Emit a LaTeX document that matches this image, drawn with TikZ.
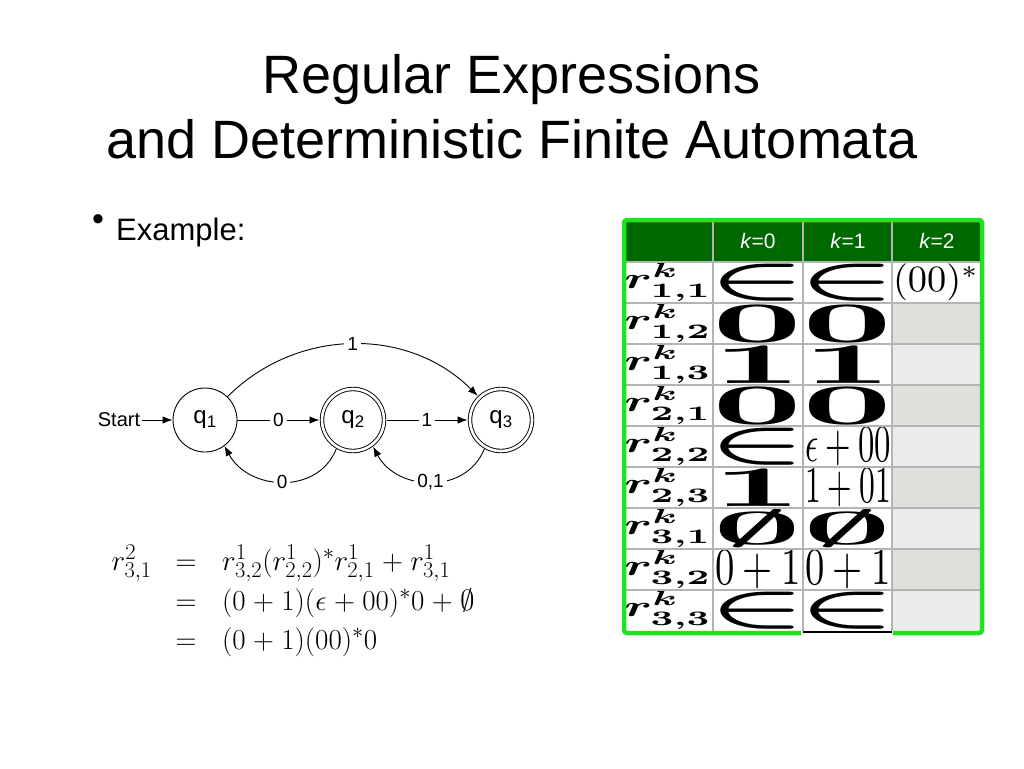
\RequirePackage{fix-cm}
\documentclass[tikz,border=0pt]{standalone}
\usepackage{fontspec}
\setmainfont{Liberation Sans}
\usepackage{amsmath,graphicx}
\usetikzlibrary{arrows.meta}
\DeclareMathSizes{29}{29}{22.5}{17}
\definecolor{hdrgreen}{RGB}{0,104,0}
\definecolor{brdgreen}{RGB}{32,226,32}
\definecolor{gridgray}{RGB}{180,180,180}
\definecolor{darkcell}{RGB}{224,223,220}
\definecolor{lightcell}{RGB}{235,235,235}
\newcommand{\bigsym}[2][84pt]{\resizebox*{#1}{37pt}{\boldmath$#2$}}
\newcommand{\bigexpr}[1]{\resizebox*{86pt}{38pt}{$#1$}}
\newcommand{\rlab}[1]{\resizebox*{88pt}{38pt}{\boldmath$r^{k}_{#1}$}}
\newcommand{\eqm}[1]{$\medmuskip=4.6mu plus 2mu minus 4mu\relax #1$}
\begin{document}
\begin{tikzpicture}[x=1pt,y=-1pt,
  state/.style={circle,draw,line width=0.9pt,minimum size=64pt,inner sep=0pt,font=\fontsize{24}{24}\selectfont},
  accept/.style={state,double,double distance=2.6pt,minimum size=62pt,outer sep=2.5pt},
  arr/.style={line width=0.9pt,-{Latex[length=10pt,width=7.5pt]}},
  lbl/.style={fill=white,inner sep=3pt,font=\fontsize{19}{19}\selectfont},
  cellc/.style={inner sep=0pt,anchor=center},
  hdr/.style={text=white,font=\fontsize{21}{21}\selectfont,anchor=center},
  eq/.style={inner sep=0pt,font=\fontsize{29}{29}\selectfont}]
\useasboundingbox (0,0) rectangle (1024,768);
% title
\node[anchor=base,font=\fontsize{54}{60}\selectfont] (t1) at (512,93) {Regular Expressions};
\node[anchor=base,font=\fontsize{54}{60}\selectfont] (t2) at (512,158) {and Deterministic Finite Automata};
% bullet
\node[anchor=base,font=\fontsize{34}{34}\selectfont,inner sep=0pt] (bul) at (98,230) {•};
\node[anchor=base west,font=\fontsize{31}{31}\selectfont,inner sep=0pt] (ex) at (116,240) {Example:};
% automaton
\node[state] (q1) at (205,420) {q\textsubscript{1}};
\node[accept] (q2) at (353,420) {q\textsubscript{2}};
\node[accept] (q3) at (501,420) {q\textsubscript{3}};
\node[font=\fontsize{20}{20}\selectfont,inner sep=2pt] (start) at (119,420) {Start};
\draw[arr] (start) -- (q1);
\draw[arr] (q1) -- node[lbl]{0} (q2);
\draw[arr] (q2) -- node[lbl]{1} (q3);
\draw[arr] (q1.46) to[out=45,in=135] node[lbl]{1} (q3.134);
\draw[arr] (q2.240) to[out=248,in=-62,looseness=1.15] node[lbl]{0} (q1.-53);
\draw[arr] (q3.240) to[out=248,in=-62,looseness=1.15] node[lbl]{0,1} (q2.-53);
% equations
\node[eq,anchor=base east] (l1) at (152,570) {\eqm{r^2_{3,1}}};
\node[eq,anchor=base] (e1) at (186,570) {\eqm{=}};
\node[eq,anchor=base west] (r1) at (222,570) {\eqm{r^1_{3,2}(r^1_{2,2})^*r^1_{2,1}+r^1_{3,1}}};
\node[eq,anchor=base] (e2) at (186,610) {\eqm{=}};
\node[eq,anchor=base west] (r2) at (222,610) {\eqm{(0+1)(\epsilon+00)^*0+\emptyset}};
\node[eq,anchor=base] (e3) at (186,649) {\eqm{=}};
\node[eq,anchor=base west] (r3) at (222,649) {\eqm{(0+1)(00)^*0}};
% table backgrounds
\fill[hdrgreen] (624,221) rectangle (981,262);
\fill[darkcell] (892,303) rectangle (981,344);
\fill[lightcell] (892,344) rectangle (981,385);
\fill[darkcell] (892,385) rectangle (981,426);
\fill[lightcell] (892,426) rectangle (981,467);
\fill[darkcell] (892,467) rectangle (981,508);
\fill[lightcell] (892,508) rectangle (981,549);
\fill[darkcell] (892,549) rectangle (981,590);
\fill[lightcell] (892,590) rectangle (981,631);
% header
\node[hdr] (h0) at (758,241) {\textit{k}=0};
\node[hdr] (h1) at (848,241) {\textit{k}=1};
\node[hdr] (h2) at (937,241) {\textit{k}=2};
% row labels
\node[cellc] (l11) at (668,282.5) {\rlab{1,1}};
\node[cellc] (l12) at (668,323.5) {\rlab{1,2}};
\node[cellc] (l13) at (668,364.5) {\rlab{1,3}};
\node[cellc] (l21) at (668,405.5) {\rlab{2,1}};
\node[cellc] (l22) at (668,446.5) {\rlab{2,2}};
\node[cellc] (l23) at (668,487.5) {\rlab{2,3}};
\node[cellc] (l31) at (668,528.5) {\rlab{3,1}};
\node[cellc] (l32) at (668,569.5) {\rlab{3,2}};
\node[cellc] (l33) at (668,610.5) {\rlab{3,3}};
% k=0
\node[cellc] (a11) at (758,282.5) {\bigsym[98pt]{\in}};
\node[cellc] (a12) at (758,323.5) {\bigsym[90pt]{0}};
\node[cellc] (a13) at (758,364.5) {\bigsym[90pt]{1}};
\node[cellc] (a21) at (758,405.5) {\bigsym[90pt]{0}};
\node[cellc] (a22) at (758,446.5) {\bigsym[98pt]{\in}};
\node[cellc] (a23) at (758,487.5) {\bigsym[90pt]{1}};
\node[cellc] (a31) at (758,528.5) {\bigsym[88pt]{\emptyset}};
\node[cellc] (a32) at (758,569.5) {\bigexpr{0+1}};
\node[cellc] (a33) at (758,610.5) {\bigsym[98pt]{\in}};
% k=1
\node[cellc] (b11) at (848,282.5) {\bigsym[98pt]{\in}};
\node[cellc] (b12) at (848,323.5) {\bigsym[90pt]{0}};
\node[cellc] (b13) at (848,364.5) {\bigsym[90pt]{1}};
\node[cellc] (b21) at (848,405.5) {\bigsym[90pt]{0}};
\node[cellc] (b22) at (848,446.5) {\bigexpr{\epsilon+00}};
\node[cellc] (b23) at (848,487.5) {\bigexpr{1+01}};
\node[cellc] (b31) at (848,528.5) {\bigsym[88pt]{\emptyset}};
\node[cellc] (b32) at (848,569.5) {\bigexpr{0+1}};
\node[cellc] (b33) at (848,610.5) {\bigsym[98pt]{\in}};
% k=2
\node[cellc] (c11) at (936,282.5) {\resizebox*{86pt}{37pt}{$(00)^*$}};
% grid
\foreach \yy in {262,303,344,385,426,467,508,549,590}
  \draw[gridgray,line width=1.6pt] (624,\yy) -- (981,\yy);
\foreach \xx in {713,803,892}
  \draw[gridgray,line width=1.6pt] (\xx,221) -- (\xx,631);
% outer border
\draw[brdgreen,line width=4.5pt,rounded corners=3pt] (801,633) -- (624,633) -- (624,220) -- (982,220) -- (982,633) -- (893,633);
\draw[black,line width=1.4pt] (803,632) -- (892,632);
\end{tikzpicture}
\end{document}
